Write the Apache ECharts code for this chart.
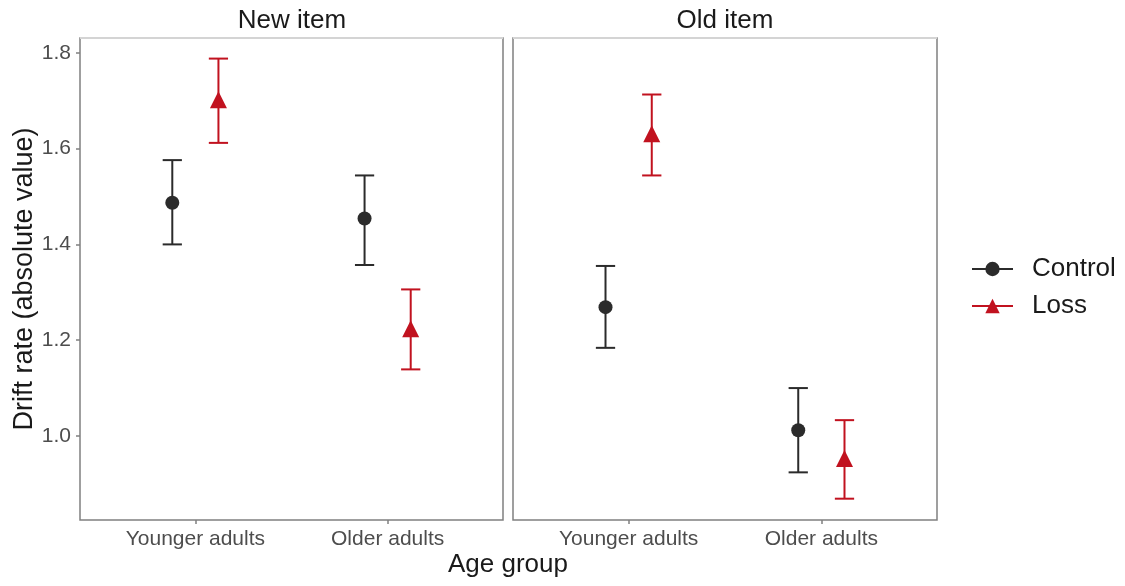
<!DOCTYPE html>
<html><head><meta charset="utf-8">
<script src="https://cdn.jsdelivr.net/npm/echarts@6/dist/echarts.min.js"></script>
<style>html,body{margin:0;background:#fff}#c{width:1125px;height:586px}</style>
</head><body><div id="c"></div><script>
const panels = ['New item', 'Old item'];
const ageGroups = ['Younger adults', 'Older adults'];
const conditions = ['Control', 'Loss'];
// values indexed [panel][age group]
const controlMean = [[1.487, 1.454], [1.269, 1.012]];
const controlLow  = [[1.400, 1.357], [1.184, 0.924]];
const controlHigh = [[1.576, 1.544], [1.355, 1.100]];
const lossMean = [[1.702, 1.224], [1.631, 0.953]];
const lossLow  = [[1.612, 1.139], [1.544, 0.869]];
const lossHigh = [[1.788, 1.306], [1.713, 1.033]];
const yTicks = [1.0, 1.2, 1.4, 1.6, 1.8];

const colors = { Control: '#2b2b2b', Loss: '#c1121f' };
const symbols = { Control: 'circle', Loss: 'triangle' };
const dodge = { Control: -0.12, Loss: 0.12 };
const stats = {
  Control: { mean: controlMean, lo: controlLow, hi: controlHigh },
  Loss: { mean: lossMean, lo: lossLow, hi: lossHigh }
};
const FONT = '"Liberation Sans", Arial, sans-serif';
const grids = [
  { left: 80, top: 38, width: 423, height: 482 },
  { left: 513, top: 38, width: 424, height: 482 }
];

const option = {
  animation: false,
  textStyle: { fontFamily: FONT },
  grid: grids.map(g => Object.assign({ show: true, borderColor: '#808080', borderWidth: 1.5, backgroundColor: '#fff' }, g)),
  xAxis: grids.map((g, i) => ({
    type: 'value', gridIndex: i, min: 0.4, max: 2.6,
    splitLine: { show: false }, axisLine: { show: false },
    axisTick: { show: true, customValues: [1, 2], length: 4, lineStyle: { color: '#808080', width: 1.5 } },
    axisLabel: { customValues: [1, 2], formatter: v => ageGroups[Math.round(v) - 1], fontSize: 21, color: '#4d4d4d', margin: 9, fontFamily: FONT }
  })),
  yAxis: grids.map((g, i) => ({
    type: 'value', gridIndex: i, min: 0.8245, max: 1.831,
    splitLine: { show: false }, axisLine: { show: false },
    axisTick: { show: i === 0, customValues: yTicks, length: 4, lineStyle: { color: '#808080', width: 1.5 } },
    axisLabel: { show: i === 0, customValues: yTicks, formatter: v => v.toFixed(1), fontSize: 21, color: '#4d4d4d', margin: 9, fontFamily: FONT },
    name: i === 0 ? 'Drift rate (absolute value)' : '', nameLocation: 'middle', nameGap: 42, nameRotate: 90,
    nameTextStyle: { fontSize: 27, color: '#1a1a1a', fontFamily: FONT }
  })),
  legend: {
    orient: 'vertical', left: 966, top: 251, itemWidth: 41, itemHeight: 18, itemGap: 11,
    data: conditions,
    textStyle: { fontSize: 26, color: '#1a1a1a', fontFamily: FONT, padding: [0, 0, 0, 14] }
  },
  graphic: [
    { type: 'text', style: { x: 292, y: 21, text: panels[0], font: '26px ' + FONT, fill: '#1a1a1a', textAlign: 'center', textVerticalAlign: 'middle' } },
    { type: 'text', style: { x: 725, y: 21, text: panels[1], font: '26px ' + FONT, fill: '#1a1a1a', textAlign: 'center', textVerticalAlign: 'middle' } },
    { type: 'text', style: { x: 508, y: 565, text: 'Age group', font: '26px ' + FONT, fill: '#1a1a1a', textAlign: 'center', textVerticalAlign: 'middle' } },
    { type: 'line', z: 100, shape: { x1: 80, y1: 38, x2: 503, y2: 38 }, style: { stroke: '#d4d4d4', lineWidth: 2 } },
    { type: 'line', z: 100, shape: { x1: 513, y1: 38, x2: 937, y2: 38 }, style: { stroke: '#d4d4d4', lineWidth: 2 } }
  ],
  series: []
};

// empty line series supply the legend icons (line + marker)
conditions.forEach(c => {
  option.series.push({
    type: 'line', name: c, xAxisIndex: 0, yAxisIndex: 0, data: [],
    symbol: symbols[c], symbolSize: 14, itemStyle: { color: colors[c] },
    lineStyle: { color: colors[c], width: 2 }
  });
});

panels.forEach((p, pi) => {
  conditions.forEach(c => {
    const s = stats[c];
    const errData = ageGroups.map((a, ai) => [ai + 1 + dodge[c], s.lo[pi][ai], s.hi[pi][ai]]);
    const ptData = ageGroups.map((a, ai) => [ai + 1 + dodge[c], s.mean[pi][ai]]);
    const col = colors[c];
    option.series.push({
      type: 'custom', name: c, xAxisIndex: pi, yAxisIndex: pi, data: errData, z: 2,
      renderItem: (params, api) => {
        const x = api.value(0), lo = api.value(1), hi = api.value(2);
        const pl = api.coord([x, lo]), ph = api.coord([x, hi]);
        const hw = (api.coord([x + 0.05, lo])[0] - pl[0]);
        const st = { stroke: col, lineWidth: 2 };
        return { type: 'group', children: [
          { type: 'line', shape: { x1: pl[0], y1: pl[1], x2: ph[0], y2: ph[1] }, style: st },
          { type: 'line', shape: { x1: pl[0] - hw, y1: pl[1], x2: pl[0] + hw, y2: pl[1] }, style: st },
          { type: 'line', shape: { x1: ph[0] - hw, y1: ph[1], x2: ph[0] + hw, y2: ph[1] }, style: st }
        ] };
      },
      encode: { x: 0, y: [1, 2] }
    });
    option.series.push({
      type: 'scatter', name: c, xAxisIndex: pi, yAxisIndex: pi, data: ptData, z: 3,
      symbol: symbols[c], symbolSize: c === 'Loss' ? 17 : 14,
      itemStyle: { color: col, opacity: 1 }
    });
  });
});

const chart = echarts.init(document.getElementById('c'), null, { renderer: 'canvas' });
chart.setOption(option);
</script></body></html>
